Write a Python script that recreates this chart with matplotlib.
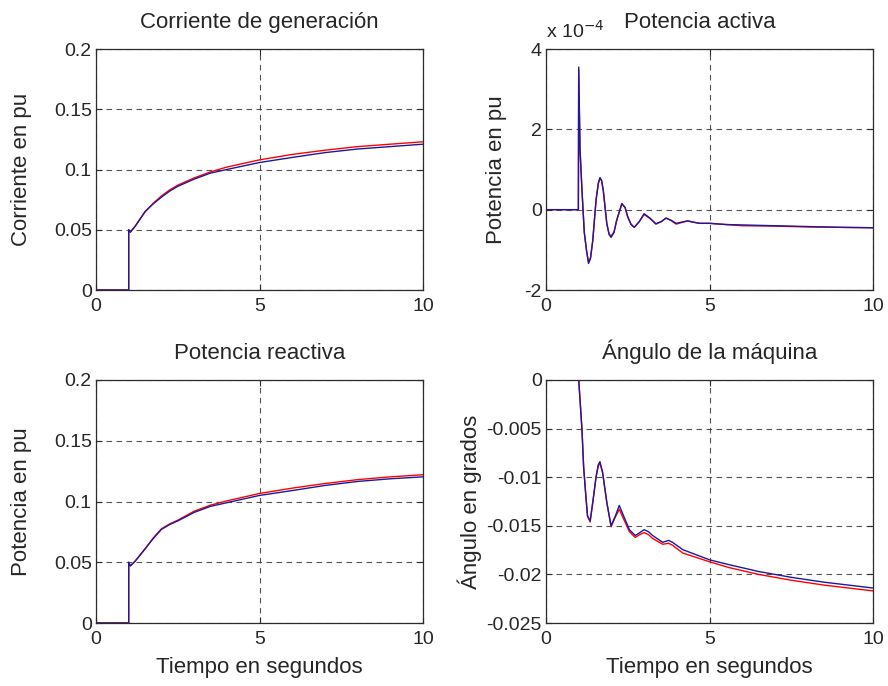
import matplotlib
matplotlib.use("Agg")
import matplotlib.pyplot as plt
from matplotlib.ticker import FuncFormatter

plt.rcParams['font.family'] = ['Liberation Sans', 'DejaVu Sans']

# ---------------- data ----------------
t_i = [0, 1.0, 1.0, 1.05, 1.2, 1.35, 1.5, 1.75, 2.0, 2.25, 2.5, 3.0, 3.5, 4.0, 5.0, 6.0, 7.0, 8.0, 9.0, 10.0]
i_red = [0, 0, 0.050, 0.048, 0.053, 0.059, 0.065, 0.072, 0.078, 0.083, 0.087, 0.093, 0.098, 0.102, 0.108,
         0.1125, 0.116, 0.119, 0.121, 0.123]
i_blue = [0, 0, 0.050, 0.048, 0.053, 0.059, 0.065, 0.0715, 0.077, 0.082, 0.086, 0.092, 0.097, 0.100, 0.1058,
          0.110, 0.114, 0.117, 0.119, 0.121]

t_p = [0, 0.99, 1.0, 1.04, 1.10, 1.17, 1.24, 1.30, 1.36, 1.43, 1.53, 1.60, 1.65, 1.70, 1.75, 1.86, 1.93,
       1.99, 2.08, 2.16, 2.32, 2.42, 2.50, 2.60, 2.70, 2.85, 3.0, 3.18, 3.36, 3.52, 3.67, 3.82, 3.98,
       4.15, 4.33, 4.5, 4.69, 5.0, 5.5, 6.0, 7.0, 8.0, 9.0, 10.0]
p_red = [0, 0, 3.50, 1.5, 0.49, -0.56, -1.02, -1.30, -1.20, -0.77, 0.235, 0.65, 0.78, 0.72, 0.49,
         -0.35, -0.60, -0.66, -0.55, -0.27, 0.15, 0.05, -0.18, -0.36, -0.44, -0.30, -0.12, -0.22, -0.36,
         -0.30, -0.21, -0.27, -0.36, -0.32, -0.28, -0.31, -0.34, -0.34, -0.37, -0.40, -0.41, -0.43, -0.44, -0.45]
p_blue = [0, 0, 3.55, 1.5, 0.49, -0.56, -1.02, -1.34, -1.22, -0.77, 0.235, 0.66, 0.80, 0.73, 0.49,
          -0.35, -0.62, -0.69, -0.57, -0.27, 0.15, 0.05, -0.18, -0.37, -0.44, -0.30, -0.10, -0.21, -0.35,
          -0.30, -0.21, -0.26, -0.34, -0.31, -0.28, -0.31, -0.34, -0.34, -0.37, -0.38, -0.40, -0.42, -0.44, -0.45]
p_scale = 1e-4  # Potencia activa values are given in units of 1e-4 pu

t_q = [0, 1.0, 1.0, 1.05, 1.2, 1.35, 1.5, 1.75, 2.0, 2.25, 2.5, 3.0, 3.5, 4.0, 5.0, 6.0, 7.0, 8.0, 9.0, 10.0]
q_red = [0, 0, 0.050, 0.047, 0.051, 0.056, 0.061, 0.070, 0.0775, 0.0815, 0.0846, 0.092, 0.097, 0.1005,
         0.1066, 0.111, 0.1148, 0.118, 0.1203, 0.122]
q_blue = [0, 0, 0.050, 0.047, 0.051, 0.056, 0.061, 0.0695, 0.077, 0.081, 0.084, 0.091, 0.096, 0.099,
          0.105, 0.109, 0.1132, 0.1165, 0.1187, 0.1203]

t_d = [0, 1.0, 1.04, 1.10, 1.15, 1.22, 1.27, 1.35, 1.43, 1.53, 1.60, 1.65, 1.73, 1.86, 1.99, 2.12,
       2.24, 2.40, 2.55, 2.73, 2.87, 3.0, 3.13, 3.26, 3.57, 3.75, 3.87, 4.18, 5.0, 5.6, 6.5, 7.5, 8.5, 10.0]
d_blue = [0, 0, -0.002, -0.0051, -0.0089, -0.012, -0.014, -0.0145, -0.0126, -0.010, -0.0087, -0.0084,
          -0.0095, -0.0126, -0.015, -0.014, -0.0129, -0.0142, -0.0154, -0.016, -0.0157, -0.0154,
          -0.0156, -0.016, -0.0167, -0.0165, -0.0167, -0.01745, -0.0185, -0.019, -0.0197, -0.0203,
          -0.0208, -0.0214]
d_red = [0, 0, -0.002, -0.0051, -0.0089, -0.012, -0.014, -0.0146, -0.0126, -0.010, -0.0088, -0.0086,
         -0.0095, -0.0126, -0.0151, -0.0141, -0.0133, -0.0145, -0.0156, -0.0162, -0.0159, -0.0157,
         -0.0159, -0.0163, -0.0169, -0.0168, -0.0170, -0.0178, -0.0187, -0.0193, -0.0200, -0.0206,
         -0.0211, -0.0217]

titles = ["Corriente de generación", "Potencia activa", "Potencia reactiva", "Ángulo de la máquina"]
ylabels = ["Corriente en pu", "Potencia en pu", "Potencia en pu", "Ángulo en grados"]
xlabel = "Tiempo en segundos"
xticks = [0, 5, 10]
yticks_i = [0, 0.05, 0.1, 0.15, 0.2]
yticks_p = [-2, 0, 2, 4]
yticks_d = [-0.025, -0.02, -0.015, -0.01, -0.005, 0]

# ---------------- style ----------------
TXT = '#262626'
EDGE = '#2b2b2b'
RED = '#ff0000'
BLUE = '#1a1aa0'
FS_T = 14
FS_L = 16

fig = plt.figure(figsize=(8.88, 6.86), dpi=100)
W, H = 888, 686
def add_ax(l, t, r, b):
    return fig.add_axes([l / W, 1 - b / H, (r - l) / W, (b - t) / H])

ax1 = add_ax(96, 49, 423, 290)
ax2 = add_ax(546, 49, 873, 290)
ax3 = add_ax(96, 380, 423, 623)
ax4 = add_ax(546, 380, 873, 623)

def style(ax, yticks, ylim, fmt=None):
    ax.set_xlim(0, 10)
    ax.set_ylim(*ylim)
    ax.set_xticks(xticks)
    ax.set_yticks(yticks)
    ax.tick_params(direction='in', length=4, width=0.8, top=True, right=True,
                   colors=EDGE, labelcolor=TXT, labelsize=FS_T)
    ax.tick_params(axis='y', pad=3)
    ax.tick_params(axis='x', pad=6)
    for s in ax.spines.values():
        s.set_color(EDGE)
        s.set_linewidth(0.9)
    ax.grid(True, color='#404040', linestyle=(0, (5, 4)), linewidth=0.8, alpha=0.9)
    ax.set_axisbelow(True)
    if fmt is not None:
        ax.yaxis.set_major_formatter(fmt)

gfmt = FuncFormatter(lambda v, p: ('%g' % round(v, 6)))

ax1.plot(t_i, i_red, color=RED, lw=1.0)
ax1.plot(t_i, i_blue, color=BLUE, lw=1.0)
style(ax1, yticks_i, (0, 0.2), gfmt)

ax2.plot(t_p, [v * p_scale for v in p_red], color=RED, lw=1.0)
ax2.plot(t_p, [v * p_scale for v in p_blue], color=BLUE, lw=1.0)
style(ax2, [v * p_scale for v in yticks_p], (-2 * p_scale, 4 * p_scale),
      FuncFormatter(lambda v, p: '%g' % round(v / p_scale, 6)))
ax2.text(0.0, 1.03, 'x 10$^{-4}$', transform=ax2.transAxes, fontsize=FS_T, color=TXT,
         ha='left', va='bottom')

ax3.plot(t_q, q_red, color=RED, lw=1.0)
ax3.plot(t_q, q_blue, color=BLUE, lw=1.0)
style(ax3, yticks_i, (0, 0.2), gfmt)

ax4.plot(t_d, d_red, color=RED, lw=1.0)
ax4.plot(t_d, d_blue, color=BLUE, lw=1.0)
style(ax4, yticks_d, (-0.025, 0), gfmt)

label_x = [-74 / 327, -50 / 327, -74 / 327, -76 / 327]
for ax, ttl, yl, lx in zip([ax1, ax2, ax3, ax4], titles, ylabels, label_x):
    ax.set_title(ttl, fontsize=FS_L, color=TXT, pad=15)
    ax.set_ylabel(yl, fontsize=FS_L, color=TXT, va='center')
    ax.yaxis.set_label_coords(lx, 0.5)
ax2.title.set_x(0.47)
for ax in (ax3, ax4):
    ax.set_xlabel(xlabel, fontsize=FS_L, color=TXT, labelpad=6)

fig.savefig('out.png', dpi=100, facecolor='white')
